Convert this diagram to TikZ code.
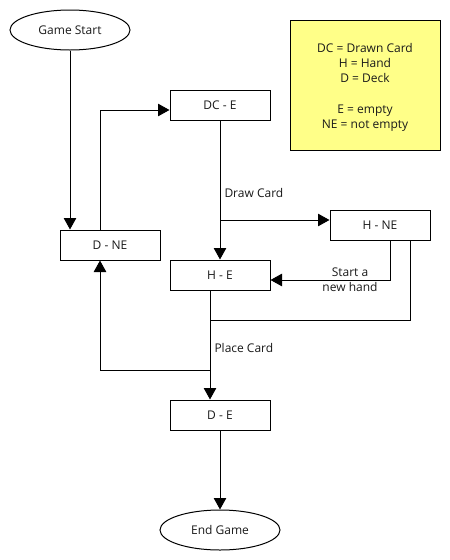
\documentclass[tikz,border=0pt]{standalone}
\usepackage{fontspec}
\setmainfont{Open Sans}
\usetikzlibrary{arrows.meta,shapes.geometric}
\definecolor{notey}{HTML}{FFFF88}
\definecolor{txt}{HTML}{1A1A1A}
\begin{document}
\begin{tikzpicture}[x=1pt,y=-1pt,
  every node/.style={font=\fontsize{12}{15.3}\selectfont, text=txt, inner sep=0pt},
  statebox/.style={draw, line width=1pt, minimum width=100pt, minimum height=30pt},
  termnode/.style={draw, ellipse, line width=1pt, minimum width=120pt, minimum height=40pt},
  conn/.style={line width=1pt, -{Triangle[length=11.5pt,width=12.5pt]}},
  plainconn/.style={line width=1pt},
  lbl/.style={font=\fontsize{12}{15.3}\selectfont}
]
\useasboundingbox (0,0) rectangle (450,560);
\fill[white] (0,0) rectangle (450,560);

\node[termnode] (start) at (70,30) {Game Start};
\node[draw, line width=1pt, fill=notey, minimum width=150pt, minimum height=130pt] (legend) at (365,85) {};
\node[align=center] (legendtxt) at (365,87.5)
  {DC = Drawn Card\\H = Hand\\D = Deck\\[15.3pt]E = empty\\NE = not empty};
\node[statebox] (dce) at (220,105) {DC - E};
\node[statebox] (dne) at (110,245) {D - NE};
\node[statebox] (hne) at (380,225) {H - NE};
\node[statebox] (he) at (220,275) {H - E};
\node[statebox] (de) at (220,415) {D - E};
\node[termnode] (end) at (220,530) {End Game};

\coordinate (j1) at (220,220);
\coordinate (j2) at (210,320);
\coordinate (j3) at (210,370);

% Game Start -> D - NE
\draw[conn] (start.south -| 70,0) -- (dne.north -| 70,0);
% D - NE -> DC - E
\draw[conn] (dne.north -| 100,0) |- (dce.west |- 0,110);
% DC - E -> H - E
\draw[conn] (dce.south) -- node[pos=0.52, anchor=west, xshift=4pt, lbl] {Draw Card} (he.north);
% branch -> H - NE
\draw[conn] (j1) -- (hne.west |- j1);
% H - NE -> H - E (Start a new hand)
\draw[conn] (hne.south -| 390,0) |- (he.east |- 0,280);
\node[lbl, align=center] (snh) at (350,280) {Start a\\new hand};
% H - NE -> join
\draw[plainconn] (hne.south -| 410,0) |- (j2);
% H - E -> D - E
\draw[conn] (he.south -| j2) -- node[pos=0.53, anchor=west, xshift=4pt, lbl] {Place Card} (de.north -| j2);
% branch -> D - NE
\draw[conn] (j3) -| (dne.south -| 100,0);
% D - E -> End Game
\draw[conn] (de.south) -- (end.north);
\end{tikzpicture}
\end{document}
